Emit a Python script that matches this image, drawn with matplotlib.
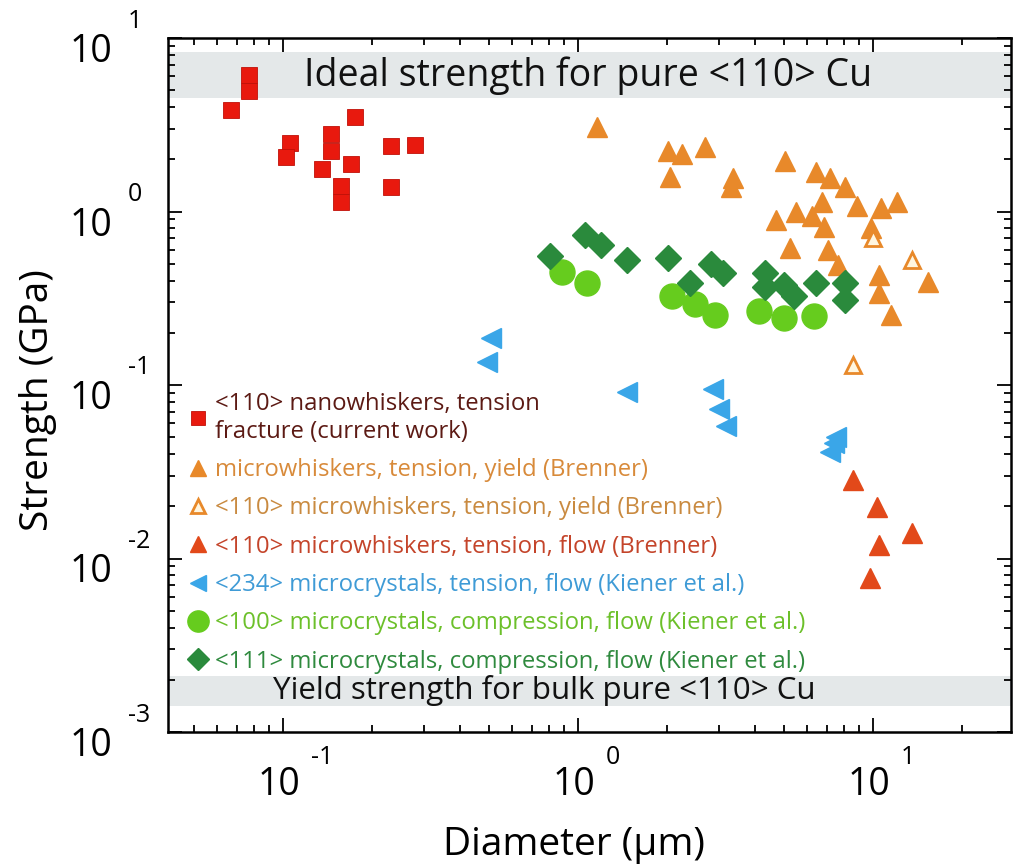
import matplotlib
matplotlib.use('Agg')
import matplotlib.pyplot as plt
import matplotlib.transforms as mtransforms
from matplotlib.ticker import LogLocator, NullFormatter

plt.rcParams['font.family'] = ['Open Sans', 'DejaVu Sans']

# ---------------------------------------------------------------------------
# Data (diameter in um, strength in GPa)
# ---------------------------------------------------------------------------
nano_d = [0.0667, 0.0767, 0.0767, 0.1056, 0.1024, 0.1455, 0.1455, 0.1356,
          0.1573, 0.1573, 0.1754, 0.170, 0.2323, 0.2323, 0.280]
nano_s = [3.84, 6.11, 4.94, 2.47, 2.05, 2.79, 2.22, 1.75,
          1.41, 1.13, 3.49, 1.87, 2.37, 1.38, 2.41]

micro_yield_d = [1.16, 2.02, 2.25, 2.70, 2.05, 3.35, 3.30, 5.03, 6.41, 7.15,
                 8.04, 8.83, 10.65, 12.06, 4.69, 5.48, 6.71, 6.21, 6.82, 9.84,
                 5.23, 7.04, 7.61, 10.48, 15.36, 10.48, 11.51]
micro_yield_s = [3.06, 2.22, 2.14, 2.34, 1.59, 1.57, 1.38, 1.95, 1.70, 1.57,
                 1.38, 1.07, 1.05, 1.14, 0.899, 0.987, 1.14, 0.936, 0.819, 0.808,
                 0.619, 0.603, 0.494, 0.432, 0.394, 0.340, 0.254]

w110_yield_d = [13.56, 8.55, 10.0]
w110_yield_s = [0.528, 0.1305, 0.707]

w110_flow_d = [8.55, 10.32, 13.56, 10.48, 9.77]
w110_flow_s = [0.0282, 0.0197, 0.0141, 0.0119, 0.00777]

c234_d = [0.507, 0.491, 1.466, 2.87, 3.01, 3.17, 7.38, 7.15, 7.49]
c234_s = [0.187, 0.136, 0.0911, 0.0948, 0.0727, 0.0579, 0.0462, 0.0410, 0.0501]

c100_d = [0.883, 1.073, 2.08, 2.49, 2.91, 4.11, 4.99, 6.31]
c100_s = [0.450, 0.389, 0.327, 0.294, 0.254, 0.268, 0.244, 0.251]

c111_d = [0.804, 1.056, 1.197, 1.466, 2.02, 2.40, 2.82, 3.10, 4.30, 4.30,
          4.99, 5.40, 6.41, 8.04, 8.04]
c111_s = [0.557, 0.736, 0.645, 0.528, 0.542, 0.389, 0.500, 0.444, 0.444, 0.368,
          0.378, 0.327, 0.389, 0.389, 0.310]

ideal_band = (4.5, 8.3)
bulk_band = (1.41e-3, 2.11e-3)

labels = ['<110> nanowhiskers, tension\nfracture (current work)',
          'microwhiskers, tension, yield (Brenner)',
          '<110> microwhiskers, tension, yield (Brenner)',
          '<110> microwhiskers, tension, flow (Brenner)',
          '<234> microcrystals, tension, flow (Kiener et al.)',
          '<100> microcrystals, compression, flow (Kiener et al.)',
          '<111> microcrystals, compression, flow (Kiener et al.)']
text_colors = ['#5c1a14', '#d88a3a', '#c98a40', '#c4442a', '#3f9bd6',
               '#6cc02a', '#2f8a3e']

RED = '#e8190e'
ORANGE = '#e8892a'
FLOW = '#e2491a'
BLUE = '#3aa6e8'
LGREEN = '#66cc1e'
DGREEN = '#2a8a3c'
BAND = '#e4e8e9'

# ---------------------------------------------------------------------------
fig = plt.figure(figsize=(10.16, 8.66), dpi=100)
ax = fig.add_axes([168 / 1016, 1 - 732 / 866, 843 / 1016, 694 / 866])
ax.set_xscale('log')
ax.set_yscale('log')
ax.set_xlim(0.0408, 29.4)
ax.set_ylim(1e-3, 1e1)

ax.axhspan(*ideal_band, color=BAND, lw=0, zorder=0)
ax.axhspan(*bulk_band, color=BAND, lw=0, zorder=0)
ax.text(1.08, 6.1, 'Ideal strength for pure <110> Cu', fontsize=27,
        ha='center', va='center', color='#111111', zorder=1)
ax.text(0.77, 1.74e-3, 'Yield strength for bulk pure <110> Cu', fontsize=22.5,
        ha='center', va='center', color='#111111', zorder=1)

h1, = ax.plot(nano_d, nano_s, 's', ms=12, color=RED, mec='#c01008', mew=0.6, ls='none')
h2, = ax.plot(micro_yield_d, micro_yield_s, '^', ms=14, color=ORANGE, mec=ORANGE, ls='none')
h3, = ax.plot(w110_yield_d, w110_yield_s, '^', ms=12, mfc='#fff6e0', mec=ORANGE, mew=2, ls='none')
h4, = ax.plot(w110_flow_d, w110_flow_s, '^', ms=14, color=FLOW, mec=FLOW, ls='none')
h5, = ax.plot(c234_d, c234_s, '<', ms=14, color=BLUE, mec=BLUE, ls='none')
h6, = ax.plot(c100_d, c100_s, 'o', ms=18, color=LGREEN, mec=LGREEN, ls='none')
h7, = ax.plot(c111_d, c111_s, 'D', ms=13, color=DGREEN, mec=DGREEN, ls='none')

leg = ax.legend([h1, h2, h3, h4, h5, h6, h7], labels,
                loc='upper left', bbox_to_anchor=(0.024, 0.49),
                frameon=False, fontsize=17.2, markerscale=0.85,
                handlelength=0.8, handletextpad=0.3, labelspacing=0.6,
                borderpad=0, borderaxespad=0, labelcolor=text_colors)

# ticks: inward on all four sides, labels drawn separately below
ax.xaxis.set_major_locator(LogLocator(base=10, numticks=10))
ax.xaxis.set_minor_locator(LogLocator(base=10, subs=range(2, 10), numticks=30))
ax.yaxis.set_major_locator(LogLocator(base=10, numticks=10))
ax.yaxis.set_minor_locator(LogLocator(base=10, subs=range(2, 10), numticks=30))
ax.tick_params(which='both', direction='in', top=True, right=True,
               labelbottom=False, labelleft=False, width=1.3)
ax.tick_params(which='major', length=10)
ax.tick_params(which='minor', length=5)
ax.xaxis.set_minor_formatter(NullFormatter())
ax.yaxis.set_minor_formatter(NullFormatter())
for sp in ax.spines.values():
    sp.set_linewidth(1.8)

# "10" + raised exponent, like the original figure
xtr = mtransforms.blended_transform_factory(ax.transData, ax.transAxes)
ytr = mtransforms.blended_transform_factory(ax.transAxes, ax.transData)
for e in [-1, 0, 1]:
    base = mtransforms.offset_copy(xtr, fig=fig, x=-4, y=-53, units='dots')
    ax.text(10.0 ** e, 0, '10', transform=base, fontsize=27,
            ha='center', va='center', clip_on=False)
    sup = mtransforms.offset_copy(xtr, fig=fig, x=28, y=-26, units='dots')
    ax.text(10.0 ** e, 0, str(e), transform=sup, fontsize=18,
            ha='left', va='center', clip_on=False)
for e in [1, 0, -1, -2, -3]:
    base = mtransforms.offset_copy(ytr, fig=fig, x=-56, y=-14, units='dots')
    ax.text(0, 10.0 ** e, '10', transform=base, fontsize=27,
            ha='right', va='center', clip_on=False)
    sup = mtransforms.offset_copy(ytr, fig=fig, x=-40, y=17, units='dots')
    ax.text(0, 10.0 ** e, str(e), transform=sup, fontsize=18,
            ha='left', va='center', clip_on=False)

fig.text(574 / 1016, 1 - 845 / 866, 'Diameter (\u03bcm)', fontsize=28,
         ha='center', va='center')
fig.text(38 / 1016, 1 - 400 / 866, 'Strength (GPa)', fontsize=28,
         ha='center', va='center', rotation=90)

fig.savefig('out.png', dpi=100)
